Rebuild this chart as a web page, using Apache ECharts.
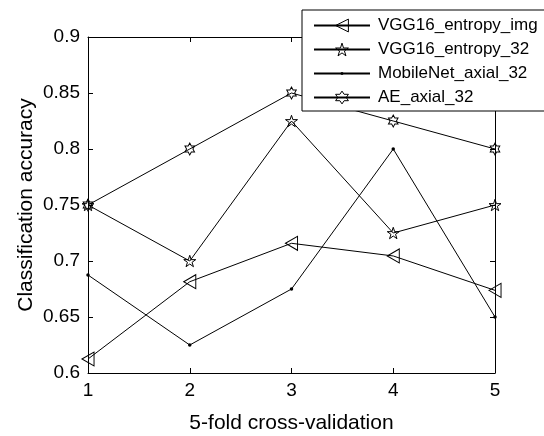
<!DOCTYPE html>
<html>
<head>
<meta charset="utf-8">
<script src="https://cdn.jsdelivr.net/npm/echarts@6/dist/echarts.min.js"></script>
<style>
  html, body { margin: 0; padding: 0; background: #fff; }
  #chart { width: 544px; height: 436px; }
</style>
</head>
<body>
<div id="chart"></div>
<script>
// Fold index of the 5-fold cross-validation
const folds = [1, 2, 3, 4, 5];

// Classification accuracy per fold for each model
const vggEntropyImg = [0.6125, 0.6815, 0.7158, 0.7045, 0.6738];
const vggEntropy32 = [0.75, 0.70, 0.825, 0.725, 0.75];
const mobileNetAxial32 = [0.6875, 0.625, 0.675, 0.80, 0.65];
const aeAxial32 = [0.75, 0.80, 0.85, 0.825, 0.80];

const seriesNames = ['VGG16_entropy_img', 'VGG16_entropy_32', 'MobileNet_axial_32', 'AE_axial_32'];
const hollowMarker = [true, true, false, true];

// Axis tick values
const xTicks = [1, 2, 3, 4, 5];
const yTicks = [0.6, 0.65, 0.7, 0.75, 0.8, 0.85, 0.9];

// Marker outlines
const triangleLeft = 'path://M0 7 L13 0 L13 14 Z';
const pentagram = 'path://M10 0 L12.25 6.91 L19.51 6.91 L13.63 11.18 L15.88 18.09 L10 13.82 L4.12 18.09 L6.37 11.18 L0.49 6.91 L7.75 6.91 Z';
const hexagram = 'path://M10 0 L12.89 5 L18.66 5 L15.77 10 L18.66 15 L12.89 15 L10 20 L7.11 15 L1.34 15 L4.23 10 L1.34 5 L7.11 5 Z';
// Small dot inside a padded 20x20 box, so it stays tiny in the legend too
const dot = 'path://M0 0 M20 20 M7.66 10 A2.34 2.34 0 1 0 12.34 10 A2.34 2.34 0 1 0 7.66 10 Z';

const FONT = 'Liberation Sans, Arial, sans-serif';
const INK = '#000';
const CLEAR = 'rgba(255,255,255,0)';

function pairs(values) {
  return folds.map((f, i) => [f, values[i]]);
}

function markerStyle(hollow) {
  return {
    color: hollow ? CLEAR : INK,
    borderColor: INK,
    borderWidth: hollow ? 1 : 0
  };
}

function lineSeries(name, values, symbol, size, hollow) {
  return {
    name: name,
    type: 'line',
    xAxisIndex: 0,
    yAxisIndex: 0,
    data: pairs(values),
    symbol: symbol,
    symbolSize: size,
    symbolKeepAspect: true,
    showAllSymbol: true,
    animation: false,
    lineStyle: { color: INK, width: 1 },
    itemStyle: markerStyle(hollow),
    emphasis: { disabled: true }
  };
}

function valueAxis(pos, min, max, interval, showLabels, extra) {
  return Object.assign({
    type: 'value',
    position: pos,
    min: min,
    max: max,
    interval: interval,
    axisLine: { show: true, onZero: false, lineStyle: { color: INK, width: 1 } },
    axisTick: { show: true, inside: true, length: 5, lineStyle: { color: INK, width: 1 } },
    axisLabel: { show: showLabels, color: INK, fontFamily: FONT, fontSize: 19 },
    splitLine: { show: false }
  }, extra || {});
}

const chart = echarts.init(document.getElementById('chart'), null, { renderer: 'canvas' });

chart.setOption({
  backgroundColor: '#fff',
  animation: false,
  textStyle: { fontFamily: FONT, color: INK },
  grid: { left: 88, right: 49, top: 37, bottom: 63, show: false, containLabel: false, outerBoundsMode: 'none' },
  xAxis: [
    valueAxis('bottom', xTicks[0], xTicks[xTicks.length - 1], 1, true, {
      name: '5-fold cross-validation',
      nameLocation: 'middle',
      nameGap: 40,
      nameTextStyle: { color: INK, fontFamily: FONT, fontSize: 21 },
      axisLabel: { show: true, color: INK, fontFamily: FONT, fontSize: 19, margin: 8 }
    }),
    valueAxis('top', xTicks[0], xTicks[xTicks.length - 1], 1, false)
  ],
  yAxis: [
    valueAxis('left', yTicks[0], yTicks[yTicks.length - 1], 0.05, true, {
      name: 'Classification accuracy',
      nameLocation: 'middle',
      nameGap: 51,
      nameMoveOverlap: false,
      nameTextStyle: { color: INK, fontFamily: FONT, fontSize: 21 },
      axisLabel: { show: true, color: INK, fontFamily: FONT, fontSize: 19, margin: 8 }
    }),
    valueAxis('right', yTicks[0], yTicks[yTicks.length - 1], 0.05, false)
  ],
  legend: {
    data: seriesNames.map((n, i) => ({ name: n, itemStyle: markerStyle(hollowMarker[i]) })),
    orient: 'vertical',
    left: 302,
    top: 10,
    padding: [7, 9, 5, 11],
    itemGap: 7,
    itemWidth: 56,
    itemHeight: 16,
    backgroundColor: '#fff',
    borderColor: INK,
    borderWidth: 1,
    borderRadius: 0,
    selectedMode: false,
    textStyle: { color: INK, fontFamily: FONT, fontSize: 17, padding: [0, 0, 0, 3] }
  },
  series: [
    lineSeries(seriesNames[0], vggEntropyImg, triangleLeft, [13, 14], hollowMarker[0]),
    lineSeries(seriesNames[1], vggEntropy32, pentagram, 12, hollowMarker[1]),
    lineSeries(seriesNames[2], mobileNetAxial32, dot, 15, hollowMarker[2]),
    lineSeries(seriesNames[3], aeAxial32, hexagram, [11, 12], hollowMarker[3])
  ]
});
</script>
</body>
</html>
